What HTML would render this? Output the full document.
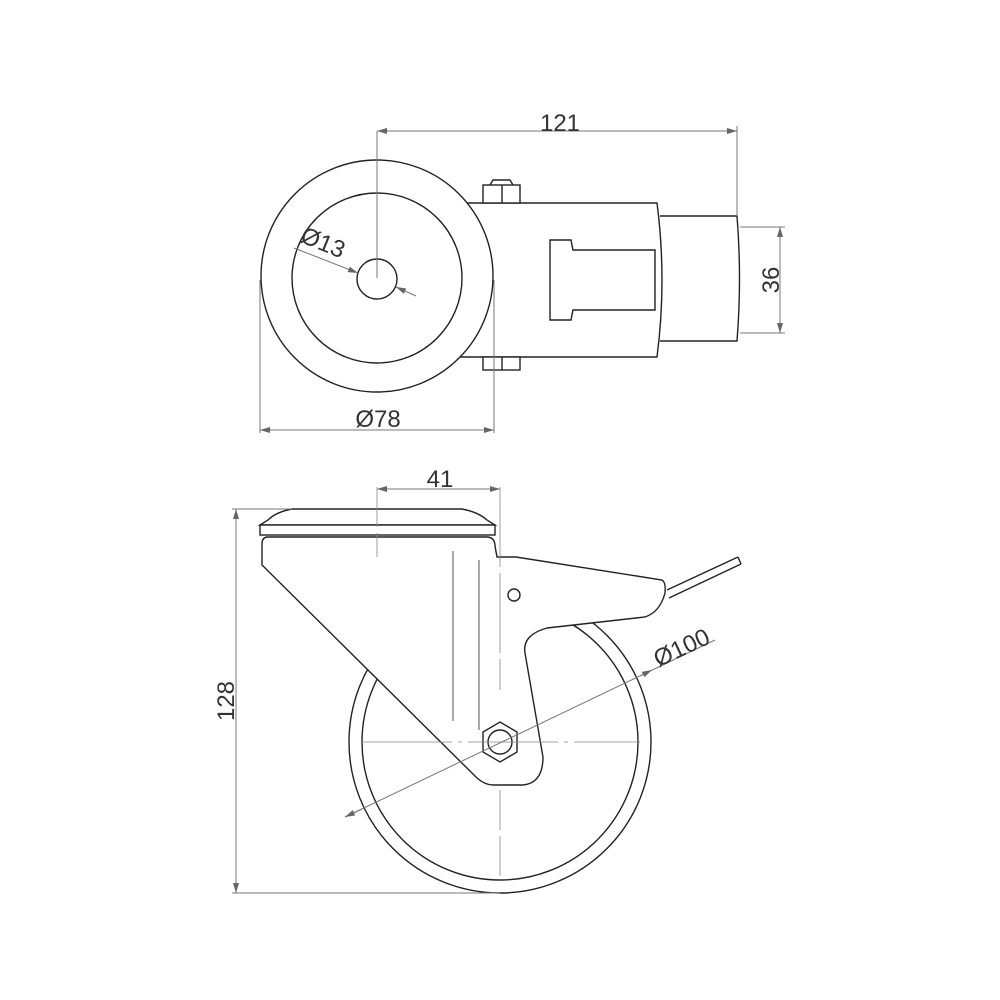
<!DOCTYPE html>
<html><head><meta charset="utf-8"><style>
html,body{margin:0;padding:0;background:#fff}
svg{display:block}
text{font-family:"Liberation Sans",sans-serif;font-size:24px;fill:#333}
</style></head><body>
<svg width="1000" height="1000" viewBox="0 0 1000 1000" xmlns="http://www.w3.org/2000/svg">
<defs>
<marker id="a" viewBox="0 0 10 6" refX="10" refY="3" markerWidth="10" markerHeight="6" orient="auto-start-reverse" markerUnits="userSpaceOnUse"><path d="M0,0 L10,3 L0,6 Z" fill="#666"/></marker>
</defs>
<g fill="none" stroke="#222" stroke-width="1.4">
<!-- TOP VIEW -->
<path d="M660,216 L737,216 Q742,278 737,341 L660,341" fill="#fff"/>
<path d="M440,203 L657,203 Q667,280 657,357 L440,357 Z" fill="#fff"/>
<path d="M550,240 L571,240 L573,250 L655,250 L655,310 L573,310 L571,320 L550,320 Z"/>
<rect x="483" y="185" width="37" height="18" fill="#fff"/>
<line x1="502" y1="185" x2="502" y2="203"/>
<path d="M490,185 L493,180 L510,180 L513,185"/>
<rect x="483" y="357" width="37" height="13" fill="#fff"/>
<line x1="502" y1="357" x2="502" y2="370"/>
<circle cx="377" cy="276" r="116" fill="#fff"/>
<circle cx="377" cy="278" r="85"/>
<circle cx="377" cy="279" r="20"/>
</g>
<g stroke="#777" stroke-width="1" fill="none">
<line x1="377" y1="131" x2="377" y2="278"/>
<line x1="737" y1="126" x2="737" y2="216"/>
<line x1="377" y1="131" x2="737" y2="131" marker-start="url(#a)" marker-end="url(#a)"/>
<line x1="740" y1="227" x2="785" y2="227"/>
<line x1="740" y1="333" x2="785" y2="333"/>
<line x1="780" y1="227" x2="780" y2="333" marker-start="url(#a)" marker-end="url(#a)"/>
<line x1="260" y1="280" x2="260" y2="433"/>
<line x1="494" y1="280" x2="494" y2="433"/>
<line x1="260" y1="430" x2="494" y2="430" marker-start="url(#a)" marker-end="url(#a)"/>
<line x1="294" y1="248" x2="358" y2="273" marker-end="url(#a)"/>
<line x1="396" y1="287" x2="416" y2="296" marker-start="url(#a)"/>
</g>
<text x="560" y="131" text-anchor="middle">121</text>
<text x="378" y="427" text-anchor="middle">Ø78</text>
<text transform="translate(779,280) rotate(-90)" text-anchor="middle">36</text>
<text transform="translate(320,250) rotate(22)" text-anchor="middle">Ø13</text>

<!-- SIDE VIEW -->
<g fill="none" stroke="#222" stroke-width="1.4">
<circle cx="500" cy="742" r="151" fill="#fff"/>
<circle cx="500" cy="742" r="138"/>
<line x1="667" y1="590" x2="738" y2="557"/>
<line x1="669" y1="598" x2="741" y2="564"/>
<line x1="738" y1="557" x2="741" y2="564"/>
<path d="M292,509 L462,509 Q478,512 487,520 L495,525 L260,525 L268,520 Q276,512 292,509 Z" fill="#fff"/>
<rect x="260" y="525" width="235" height="10" fill="#fff"/>
<path d="M268,537 L488,537 Q495,538 495,546 L497,557 L516,557 L662,580 Q666,582 665,593 Q660,612 645,617 L547,628 Q522,635 525,653 L543,757 Q543,783 523,785 L493,785 Q485,785 477,778 L262,565 L262,544 Q262,537 268,537 Z" fill="#fff"/>
<circle cx="514" cy="595" r="6"/>
<path d="M500,722 L517,732 L517,752 L500,762 L483,752 L483,732 Z" fill="#fff"/>
<circle cx="500" cy="742" r="12"/>
</g>
<g stroke="#888" stroke-width="0.8" fill="none">
<line x1="362" y1="742" x2="640" y2="742" stroke-dasharray="90,6,4,6"/>
<line x1="500" y1="790" x2="500" y2="880" stroke-dasharray="40,6"/>
<line x1="377" y1="487" x2="377" y2="557" stroke-dasharray="40,6"/>
<line x1="500" y1="487" x2="500" y2="690" stroke-dasharray="80,6"/>
</g>
<g stroke="#555" stroke-width="1" fill="none">
<line x1="453" y1="551" x2="453" y2="721"/>
<line x1="479" y1="560" x2="479" y2="730"/>
</g>
<g stroke="#777" stroke-width="1" fill="none">
<line x1="377" y1="489" x2="500" y2="489" marker-start="url(#a)" marker-end="url(#a)"/>
<line x1="232" y1="509" x2="292" y2="509"/>
<line x1="232" y1="893" x2="500" y2="893"/>
<line x1="236" y1="509" x2="236" y2="893" marker-start="url(#a)" marker-end="url(#a)"/>
<line x1="345" y1="817" x2="715" y2="640"/>
<line x1="345" y1="817" x2="362" y2="809" marker-start="url(#a)"/>
<line x1="640" y1="676" x2="652" y2="670" marker-end="url(#a)"/>
</g>
<text x="440" y="487" text-anchor="middle">41</text>
<text transform="translate(234,701) rotate(-90)" text-anchor="middle">128</text>
<text transform="translate(685,655) rotate(-25)" text-anchor="middle">Ø100</text>
</svg>
</body></html>
